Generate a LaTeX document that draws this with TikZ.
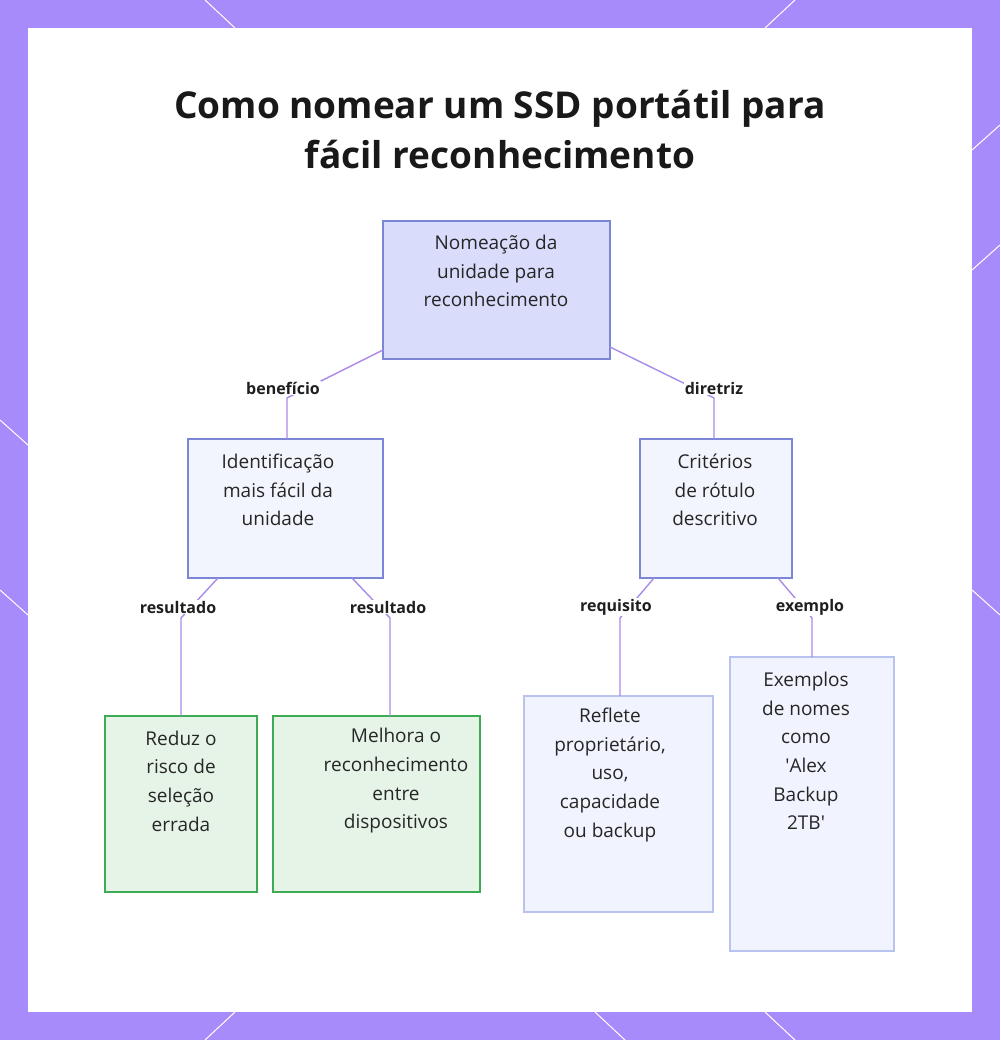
\documentclass[tikz,border=0pt]{standalone}
\usepackage{fontspec}
\setmainfont{Open Sans}
\begin{document}
\begin{tikzpicture}[x=1pt,y=-1pt,
 box/.style={draw=#1,line width=1.3pt,align=center,font=\fontsize{19}{28.7}\selectfont,text=black!85},
 edge/.style={color={rgb,255:red,169;green,139;blue,232},line width=1.4pt},
 lab/.style={fill=white,inner sep=1pt,font=\bfseries\fontsize{16}{18}\selectfont,text=black!88}]
\useasboundingbox (0,0) rectangle (1000,1040);
\fill[color={rgb,255:red,167;green,139;blue,250}] (0,0) rectangle (1000,1040);
\foreach \a/\b/\c/\d in {205/0/235/28, 795/0/765/28, 0/420/28/445, 0/590/28/615, 972/150/1000/125, 972/270/1000/245, 972/590/1000/615, 205/1040/235/1012, 765/1012/795/1040, 595/1012/625/1040}
 \draw[white,line width=1pt] (\a,\b)--(\c,\d);
\fill[white] (28,28) rectangle (972,1012);
\node[font=\bfseries\fontsize{37}{50}\selectfont,align=center,text=black!90] (t) at (500,130) {Como nomear um SSD portátil para\\fácil reconhecimento};
\definecolor{bb}{RGB}{123,134,214}
\definecolor{gb}{RGB}{61,170,85}
\definecolor{lb}{RGB}{185,195,240}
\path[box=bb,fill={rgb,255:red,217;green,220;blue,251}] (383,221) rectangle (610,359);
\node[box=bb,draw=none] (r) at (496,271) {Nomeação da\\unidade para\\reconhecimento};
\path[box=bb,fill={rgb,255:red,243;green,245;blue,254}] (188,439) rectangle (383,578);
\node[box=bb,draw=none] (m1) at (278,490) {Identificação\\mais fácil da\\unidade};
\path[box=bb,fill={rgb,255:red,243;green,245;blue,254}] (640,439) rectangle (792,578);
\node[box=bb,draw=none] (m2) at (715,490) {Critérios\\de rótulo\\descritivo};
\path[box=gb,fill={rgb,255:red,230;green,244;blue,232}] (105,716) rectangle (257,892);
\node[box=gb,draw=none] (l1) at (181,781) {Reduz o\\risco de\\seleção\\errada};
\path[box=gb,fill={rgb,255:red,230;green,244;blue,232}] (273,716) rectangle (480,892);
\node[box=gb,draw=none] (l2) at (396,781) {Melhora o\\reconhecimento\\entre\\dispositivos};
\path[box=lb,fill={rgb,255:red,241;green,243;blue,254}] (524,696) rectangle (713,912);
\node[box=lb,draw=none] (l3) at (610,775) {Reflete\\proprietário,\\uso,\\capacidade\\ou backup};
\path[box=lb,fill={rgb,255:red,241;green,243;blue,254}] (730,657) rectangle (894,951);
\node[box=lb,draw=none] (l4) at (806,751) {Exemplos\\de nomes\\como\\\textquotesingle Alex\\Backup\\2TB\textquotesingle};
\coordinate (a1) at (383,350); \coordinate (a2) at (287,398); \coordinate (a3) at (287,439);
\draw[edge] (a1)--(a2)--(a3);
\coordinate (b1) at (610,347); \coordinate (b2) at (714,398); \coordinate (b3) at (714,439);
\draw[edge] (b1)--(b2)--(b3);
\coordinate (c1) at (218,578); \coordinate (c2) at (181,618); \coordinate (c3) at (181,716);
\draw[edge] (c1)--(c2)--(c3);
\coordinate (d1) at (352,578); \coordinate (d2) at (390,618); \coordinate (d3) at (390,716);
\draw[edge] (d1)--(d2)--(d3);
\coordinate (e1) at (654,578); \coordinate (e2) at (620,618); \coordinate (e3) at (620,696);
\draw[edge] (e1)--(e2)--(e3);
\coordinate (f1) at (778,578); \coordinate (f2) at (812,618); \coordinate (f3) at (812,657);
\draw[edge] (f1)--(f2)--(f3);
\node[lab] (L1) at (283,388) {benefício};
\node[lab] (L2) at (714,388) {diretriz};
\node[lab] (L3) at (178,607) {resultado};
\node[lab] (L4) at (388,607) {resultado};
\node[lab] (L5) at (616,607) {requisito};
\node[lab] (L6) at (810,607) {exemplo};
\end{tikzpicture}
\end{document}
